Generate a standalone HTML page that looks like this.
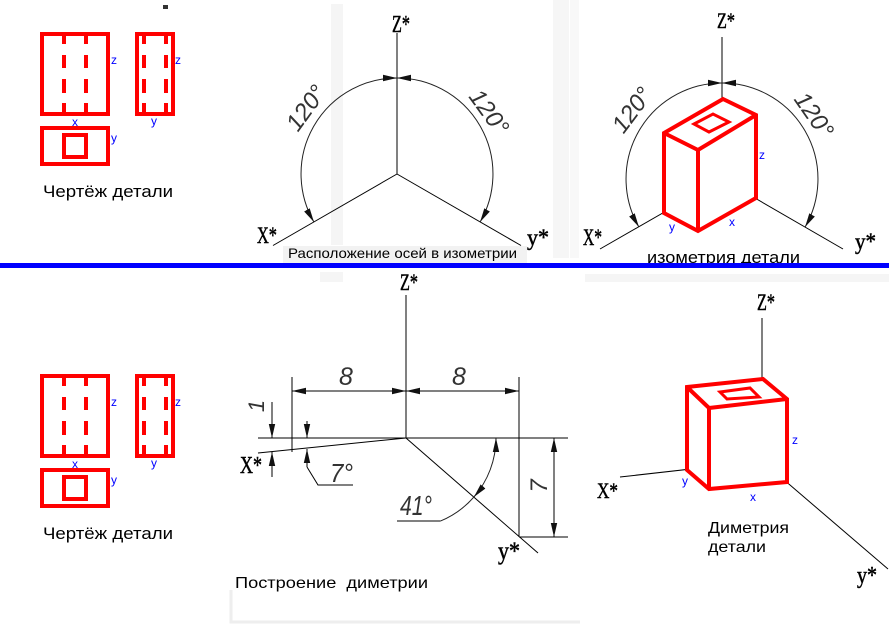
<!DOCTYPE html>
<html><head><meta charset="utf-8"><style>
html,body{margin:0;padding:0;background:#fff;}
svg{display:block}
text{font-family:"Liberation Sans",sans-serif;}
.ser{font-family:"Liberation Serif",serif;stroke:#000;stroke-width:0.5;}
.dim{font-family:"Liberation Sans",sans-serif;font-style:italic;fill:#333;}
.bl{fill:#0000ff;font-size:12px;}
</style></head><body>
<svg width="889" height="639" viewBox="0 0 889 639" xmlns="http://www.w3.org/2000/svg">
<defs>
<marker id="a" markerUnits="userSpaceOnUse" viewBox="0 0 14 7" markerWidth="14" markerHeight="7" refX="14" refY="3.5" orient="auto-start-reverse"><path d="M0,0.3 L14,3.5 L0,6.7 z" fill="#111"/></marker>
<g id="ortho">
  <g fill="none" stroke="#f00" stroke-width="4">
    <rect x="42" y="34" width="66" height="80"/>
    <rect x="137" y="34" width="36" height="80"/>
    <rect x="42" y="128" width="66" height="36"/>
    <rect x="64" y="135" width="22" height="22"/>
  </g>
  <g fill="#f00">
    <rect x="62" y="36" width="4" height="8"/><rect x="62" y="55" width="4" height="13"/><rect x="62" y="79" width="4" height="14"/><rect x="62" y="103" width="4" height="9"/>
    <rect x="84" y="36" width="4" height="8"/><rect x="84" y="55" width="4" height="13"/><rect x="84" y="79" width="4" height="14"/><rect x="84" y="103" width="4" height="9"/>
    <rect x="142" y="36" width="4" height="8"/><rect x="142" y="55" width="4" height="13"/><rect x="142" y="79" width="4" height="14"/><rect x="142" y="103" width="4" height="9"/>
    <rect x="164" y="36" width="4" height="8"/><rect x="164" y="55" width="4" height="13"/><rect x="164" y="79" width="4" height="14"/><rect x="164" y="103" width="4" height="9"/>
  </g>
  <text class="bl" x="111" y="64">z</text>
  <text class="bl" x="175" y="64">z</text>
  <text class="bl" x="72" y="126">x</text>
  <text class="bl" x="151" y="125">y</text>
  <text class="bl" x="111" y="142">y</text>
  <text x="43" y="197" font-size="17" textLength="130" lengthAdjust="spacingAndGlyphs">Чертёж детали</text>
</g>
</defs>
<rect width="889" height="639" fill="#fff"/>

<!-- faint background artifacts -->
<rect x="331" y="4" width="12" height="241" fill="#f5f5f5"/>
<rect x="553" y="0" width="16" height="258" fill="#f6f6f6"/>
<rect x="570" y="0" width="9" height="258" fill="#f8f8f8"/>
<rect x="283" y="246" width="244" height="17" fill="#f2f2f2"/>
<rect x="585" y="274" width="304" height="8" fill="#f5f5f5"/>
<rect x="320" y="272" width="23" height="10" fill="#f5f5f5"/>
<path d="M231 590 V622 H580" stroke="#eeeeee" stroke-width="3" fill="none"/>
<rect x="163" y="5" width="5" height="4" fill="#333"/>

<!-- top-left and bottom-left orthographic drawings -->
<use href="#ortho"/>
<use href="#ortho" transform="translate(0,342)"/>

<!-- top-middle isometric axes -->
<g stroke="#000" stroke-width="1" fill="none">
  <line x1="397" y1="33" x2="397" y2="174"/>
  <line x1="397" y1="174" x2="273" y2="245.5"/>
  <line x1="397" y1="174" x2="521" y2="245.5"/>
  <path d="M397 78 A96 96 0 0 0 313.9 222" stroke="#222" marker-start="url(#a)" marker-end="url(#a)"/>
  <path d="M397 78 A96 96 0 0 1 480.1 222" stroke="#222" marker-start="url(#a)" marker-end="url(#a)"/>
</g>
<text class="dim" transform="translate(306,108) rotate(-54)" text-anchor="middle" y="8" font-size="24">120°</text>
<text class="dim" transform="translate(489,112) rotate(54)" text-anchor="middle" y="8" font-size="24">120°</text>
<text class="ser" x="392" y="32" font-size="24" textLength="18" lengthAdjust="spacingAndGlyphs">Z*</text>
<text class="ser" x="257" y="243" font-size="23" textLength="20" lengthAdjust="spacingAndGlyphs">X*</text>
<text class="ser" x="527" y="245" font-size="23" textLength="22" lengthAdjust="spacingAndGlyphs">y*</text>
<text x="288" y="258" font-size="14" textLength="229" lengthAdjust="spacingAndGlyphs">Расположение осей в изометрии</text>

<!-- top-right isometric part -->
<g stroke="#000" stroke-width="1" fill="none">
  <line x1="722" y1="37" x2="722" y2="179"/>
  <line x1="722" y1="179" x2="600" y2="249"/>
  <line x1="722" y1="179" x2="843" y2="249"/>
  <path d="M722 83 A96 96 0 0 0 638.9 227" stroke="#222" marker-start="url(#a)" marker-end="url(#a)"/>
  <path d="M722 83 A96 96 0 0 1 805.1 227" stroke="#222" marker-start="url(#a)" marker-end="url(#a)"/>
</g>
<text class="dim" transform="translate(632,110) rotate(-53)" text-anchor="middle" y="8" font-size="24">120°</text>
<text class="dim" transform="translate(814,115) rotate(55)" text-anchor="middle" y="8" font-size="24">120°</text>
<g stroke="#f00" stroke-width="4" stroke-linejoin="miter" fill="#fff">
  <polygon points="723,99 756,115 756,198 698,231 664,213 664,133"/>
  <polyline points="664,133 698,150 756,115" fill="none"/>
  <line x1="698" y1="150" x2="698" y2="231"/>
  <polygon points="694,124 713,114 729,122 709,132" stroke-width="3" fill="none"/>
</g>
<text class="bl" x="759" y="159">z</text>
<text class="bl" x="729" y="226">x</text>
<text class="bl" x="669" y="231">y</text>
<text class="ser" x="717" y="28" font-size="22" textLength="18" lengthAdjust="spacingAndGlyphs">Z*</text>
<text class="ser" x="583" y="245" font-size="23" textLength="19" lengthAdjust="spacingAndGlyphs">X*</text>
<text class="ser" x="855" y="249" font-size="23" textLength="21" lengthAdjust="spacingAndGlyphs">y*</text>
<text x="647" y="263" font-size="17" textLength="153" lengthAdjust="spacingAndGlyphs">изометрия детали</text>

<!-- blue separator -->
<rect x="0" y="263" width="889" height="5" fill="#0000ff"/>

<!-- bottom-middle dimetric construction -->
<g stroke="#000" stroke-width="1" fill="none">
  <line x1="406" y1="295" x2="406" y2="438"/>
  <line x1="258" y1="438" x2="568" y2="438"/>
  <line x1="406" y1="438" x2="258" y2="453"/>
  <line x1="406" y1="438" x2="538" y2="553"/>
  <line x1="292" y1="377" x2="292" y2="452"/>
  <line x1="519" y1="377" x2="519" y2="537"/>
  <line x1="519" y1="537" x2="568" y2="537"/>
  <line x1="292" y1="391" x2="406" y2="391" marker-start="url(#a)" marker-end="url(#a)"/>
  <line x1="406" y1="391" x2="519" y2="391" marker-start="url(#a)" marker-end="url(#a)"/>
  <line x1="272" y1="402" x2="272" y2="438" marker-end="url(#a)"/>
  <line x1="272" y1="477" x2="272" y2="452" marker-end="url(#a)"/>
  <line x1="307" y1="421" x2="307" y2="438" marker-end="url(#a)"/>
  <line x1="307" y1="467" x2="307" y2="449" marker-end="url(#a)"/>
  <polyline points="307,467 318,485 353,485"/>
  <line x1="554" y1="438" x2="554" y2="537" marker-start="url(#a)" marker-end="url(#a)"/>
  <path d="M496 438 A90 90 0 0 1 473.9 497" stroke="#222" marker-start="url(#a)" marker-end="url(#a)"/>
  <path d="M473.9 497 A90 90 0 0 1 440.4 521.1" stroke="#222"/>
  <line x1="440.4" y1="521" x2="397" y2="521"/>
</g>
<text class="dim" x="339" y="385" font-size="25">8</text>
<text class="dim" x="452" y="385" font-size="25">8</text>
<text class="dim" x="330" y="482" font-size="26" textLength="23" lengthAdjust="spacingAndGlyphs">7°</text>
<text class="dim" x="400" y="515" font-size="28" textLength="32" lengthAdjust="spacingAndGlyphs">41°</text>
<text class="dim" transform="translate(257,406) rotate(-90)" text-anchor="middle" y="7" font-size="22">1</text>
<text class="dim" transform="translate(539,486) rotate(-90)" text-anchor="middle" y="8" font-size="24">7</text>
<text class="ser" x="400" y="290" font-size="23" textLength="18" lengthAdjust="spacingAndGlyphs">Z*</text>
<text class="ser" x="240" y="473" font-size="24" textLength="22" lengthAdjust="spacingAndGlyphs">X*</text>
<text class="ser" x="498" y="559" font-size="25" textLength="22" lengthAdjust="spacingAndGlyphs">y*</text>
<text x="235" y="588" font-size="16" textLength="193" lengthAdjust="spacingAndGlyphs" style="white-space:pre">Построение  диметрии</text>

<!-- bottom-right dimetric part -->
<g stroke="#000" stroke-width="1" fill="none">
  <line x1="762" y1="318" x2="762" y2="461"/>
  <line x1="762" y1="461" x2="620" y2="477"/>
  <line x1="762" y1="461" x2="888" y2="569"/>
</g>
<g stroke="#f00" stroke-width="4" stroke-linejoin="miter" fill="#fff">
  <polygon points="687,387 763,379 787,399 787,482 709,489 687,470"/>
  <polyline points="687,387 709,408 787,399" fill="none"/>
  <line x1="709" y1="408" x2="709" y2="489"/>
  <polygon points="720,392 750,388 759,397 727,399" stroke-width="3" fill="none"/>
</g>
<text class="bl" x="792" y="444">z</text>
<text class="bl" x="682" y="485">y</text>
<text class="bl" x="750" y="501">x</text>
<text class="ser" x="757" y="310" font-size="23" textLength="18" lengthAdjust="spacingAndGlyphs">Z*</text>
<text class="ser" x="597" y="498" font-size="22" textLength="21" lengthAdjust="spacingAndGlyphs">X*</text>
<text class="ser" x="857" y="583" font-size="24" textLength="20" lengthAdjust="spacingAndGlyphs">y*</text>
<text x="708" y="533" font-size="16" textLength="81" lengthAdjust="spacingAndGlyphs">Диметрия</text>
<text x="708" y="552" font-size="16" textLength="58" lengthAdjust="spacingAndGlyphs">детали</text>
</svg>
</body></html>
